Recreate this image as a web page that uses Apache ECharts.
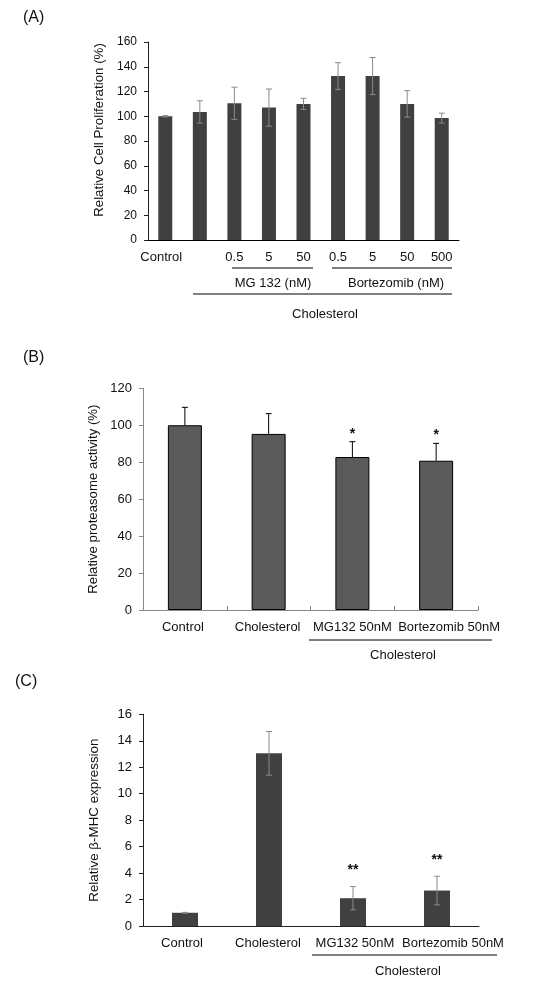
<!DOCTYPE html>
<html><head><meta charset="utf-8">
<script src="https://cdn.jsdelivr.net/npm/echarts@6/dist/echarts.min.js"></script>
<style>html,body{margin:0;padding:0;background:#fff}#c{width:541px;height:989px}</style>
</head><body><div id="c"></div>
<script>
// Panel A
var catsA = ['Control', '', '0.5', '5', '50', '0.5', '5', '50', '500'];
var valsA = [100, 103.5, 110.5, 107, 110, 132.5, 132.5, 110, 98.5];
var errA  = [0.5, 9, 13, 15, 4.5, 10.8, 15, 10.7, 4];
var ticksA = {min: 0, max: 160, interval: 20};
// Panel B
var catsB = ['Control', 'Cholesterol', 'MG132 50nM', 'Bortezomib 50nM'];
var valsB = [100, 95.3, 82.8, 80.8];
var errB  = [9.7, 11, 8.3, 9.4];
var starsB = ['', '', '*', '*'];
var ticksB = {min: 0, max: 120, interval: 20};
// Panel C
var catsC = ['Control', 'Cholesterol', 'MG132 50nM', 'Bortezomib 50nM'];
var valsC = [1.0, 13.05, 2.1, 2.68];
var errC  = [0.03, 1.65, 0.88, 1.08];
var starsC = ['', '', '**', '**'];
var ticksC = {min: 0, max: 16, interval: 2};

var FONT = '"Liberation Sans", Arial, sans-serif';
var TXT = '#111';

function errSeries(idx, vals, errs, both, color, stars, starFont, starGap) {
  return {
    type: 'custom', xAxisIndex: idx, yAxisIndex: idx, z: 10,
    data: vals.map(function (v, i) { return [i, v, errs[i]]; }),
    encode: {x: 0, y: 1},
    renderItem: function (params, api) {
      var x = api.value(0), v = api.value(1), e = api.value(2);
      var top = api.coord([x, v + e]);
      var bot = api.coord([x, both ? v - e : v]);
      var h = 3;
      var st = {stroke: color, lineWidth: 1};
      var ch = [
        {type: 'line', shape: {x1: top[0], y1: top[1], x2: bot[0], y2: bot[1]}, style: st},
        {type: 'line', shape: {x1: top[0] - h, y1: top[1], x2: top[0] + h, y2: top[1]}, style: st}
      ];
      if (both) ch.push({type: 'line', shape: {x1: bot[0] - h, y1: bot[1], x2: bot[0] + h, y2: bot[1]}, style: st});
      var s = stars ? stars[params.dataIndex] : '';
      if (s) ch.push({type: 'text', style: {text: s, x: top[0], y: top[1] - starGap, textAlign: 'center', textVerticalAlign: 'bottom', font: starFont, fill: TXT}});
      return {type: 'group', children: ch};
    }
  };
}

function yAxis(idx, t, name, gap, axisColor, fs, nfs, npad) {
  return {
    type: 'value', gridIndex: idx, min: t.min, max: t.max, interval: t.interval,
    name: name, nameLocation: 'middle', nameGap: gap,
    nameTextStyle: {fontFamily: FONT, fontSize: nfs, color: TXT, padding: npad || 0},
    axisLine: {show: true, lineStyle: {color: axisColor, width: 1}},
    axisTick: {show: true, length: 4, lineStyle: {color: axisColor}},
    axisLabel: {fontFamily: FONT, fontSize: fs, color: TXT, margin: 11},
    splitLine: {show: false}
  };
}

// shift of each category label (layout only)
function catData(cats, shifts) {
  return cats.map(function (c, i) {
    var s = shifts[i] || 0;
    return {value: c, textStyle: {padding: s >= 0 ? [0, 0, 0, 2 * s] : [0, -2 * s, 0, 0]}};
  });
}

var chart = echarts.init(document.getElementById('c'), null, {renderer: 'canvas'});
var option = {
  animation: false,
  backgroundColor: '#fff',
  grid: [
    {left: 148, width: 311, top: 42, height: 198},
    {left: 143, width: 335, top: 388.3, height: 221.7},
    {left: 143, width: 336, top: 714.3, height: 211.7}
  ],
  xAxis: [
    {type: 'category', gridIndex: 0, data: catData(catsA, [-4, 0, 0, 0, 0, 0, 0, 0, 0]),
     axisLine: {lineStyle: {color: '#000', width: 1}}, axisTick: {show: false},
     axisLabel: {fontFamily: FONT, fontSize: 13, color: TXT, margin: 11, interval: 0}},
    {type: 'category', gridIndex: 1, data: catData(catsB, [-2, -1, 0, 13]),
     axisLine: {lineStyle: {color: '#888', width: 1}},
     axisTick: {show: true, inside: true, length: 4, lineStyle: {color: '#888'}},
     axisLabel: {fontFamily: FONT, fontSize: 13, color: TXT, margin: 11, interval: 0}},
    {type: 'category', gridIndex: 2, data: catData(catsC, [-3, -1, 2, 16]),
     axisLine: {lineStyle: {color: '#222', width: 1}}, axisTick: {show: false},
     axisLabel: {fontFamily: FONT, fontSize: 13, color: TXT, margin: 11, interval: 0}}
  ],
  yAxis: [
    yAxis(0, ticksA, 'Relative Cell Proliferation (%)', 42, '#222', 12, 13.3, [0, 0, 0, 22]),
    yAxis(1, ticksB, 'Relative proteasome activity (%)', 39, '#888', 13, 13.2),
    yAxis(2, ticksC, 'Relative β-MHC expression', 42, '#222', 13, 13.4)
  ],
  series: [
    {type: 'bar', xAxisIndex: 0, yAxisIndex: 0, data: valsA, barWidth: 14, itemStyle: {color: '#404040'}},
    errSeries(0, valsA, errA, true, '#8a8a8a', null, '', 0),
    {type: 'bar', xAxisIndex: 1, yAxisIndex: 1, data: valsB, barWidth: 34, itemStyle: {color: '#5a5a5a', borderColor: '#000', borderWidth: 1}},
    errSeries(1, valsB, errB, false, '#000', starsB, 'bold 14px ' + FONT, 1),
    {type: 'bar', xAxisIndex: 2, yAxisIndex: 2, data: valsC, barWidth: 26, itemStyle: {color: '#404040'}},
    errSeries(2, valsC, errC, true, '#8a8a8a', starsC, 'bold 14px ' + FONT, 9)
  ],
  graphic: [
    {type: 'text', left: 23, top: 10, style: {text: '(A)', font: '16px ' + FONT, fill: TXT}},
    {type: 'line', shape: {x1: 232, y1: 268, x2: 313, y2: 268}, style: {stroke: '#000', lineWidth: 1}},
    {type: 'text', style: {text: 'MG 132 (nM)', x: 273, y: 283, textAlign: 'center', textVerticalAlign: 'middle', font: '13px ' + FONT, fill: TXT}},
    {type: 'line', shape: {x1: 332, y1: 268, x2: 452, y2: 268}, style: {stroke: '#000', lineWidth: 1}},
    {type: 'text', style: {text: 'Bortezomib (nM)', x: 396, y: 283, textAlign: 'center', textVerticalAlign: 'middle', font: '13px ' + FONT, fill: TXT}},
    {type: 'line', shape: {x1: 193, y1: 294, x2: 452, y2: 294}, style: {stroke: '#000', lineWidth: 1}},
    {type: 'text', style: {text: 'Cholesterol', x: 325, y: 314, textAlign: 'center', textVerticalAlign: 'middle', font: '13px ' + FONT, fill: TXT}},

    {type: 'text', left: 23, top: 350, style: {text: '(B)', font: '16px ' + FONT, fill: TXT}},
    {type: 'line', shape: {x1: 309, y1: 640, x2: 492, y2: 640}, style: {stroke: '#000', lineWidth: 1}},
    {type: 'text', style: {text: 'Cholesterol', x: 403, y: 655, textAlign: 'center', textVerticalAlign: 'middle', font: '13px ' + FONT, fill: TXT}},

    {type: 'text', left: 15, top: 674, style: {text: '(C)', font: '16px ' + FONT, fill: TXT}},
    {type: 'line', shape: {x1: 312, y1: 955, x2: 497, y2: 955}, style: {stroke: '#000', lineWidth: 1}},
    {type: 'text', style: {text: 'Cholesterol', x: 408, y: 971, textAlign: 'center', textVerticalAlign: 'middle', font: '13px ' + FONT, fill: TXT}}
  ]
};
chart.setOption(option);
</script>
</body></html>
